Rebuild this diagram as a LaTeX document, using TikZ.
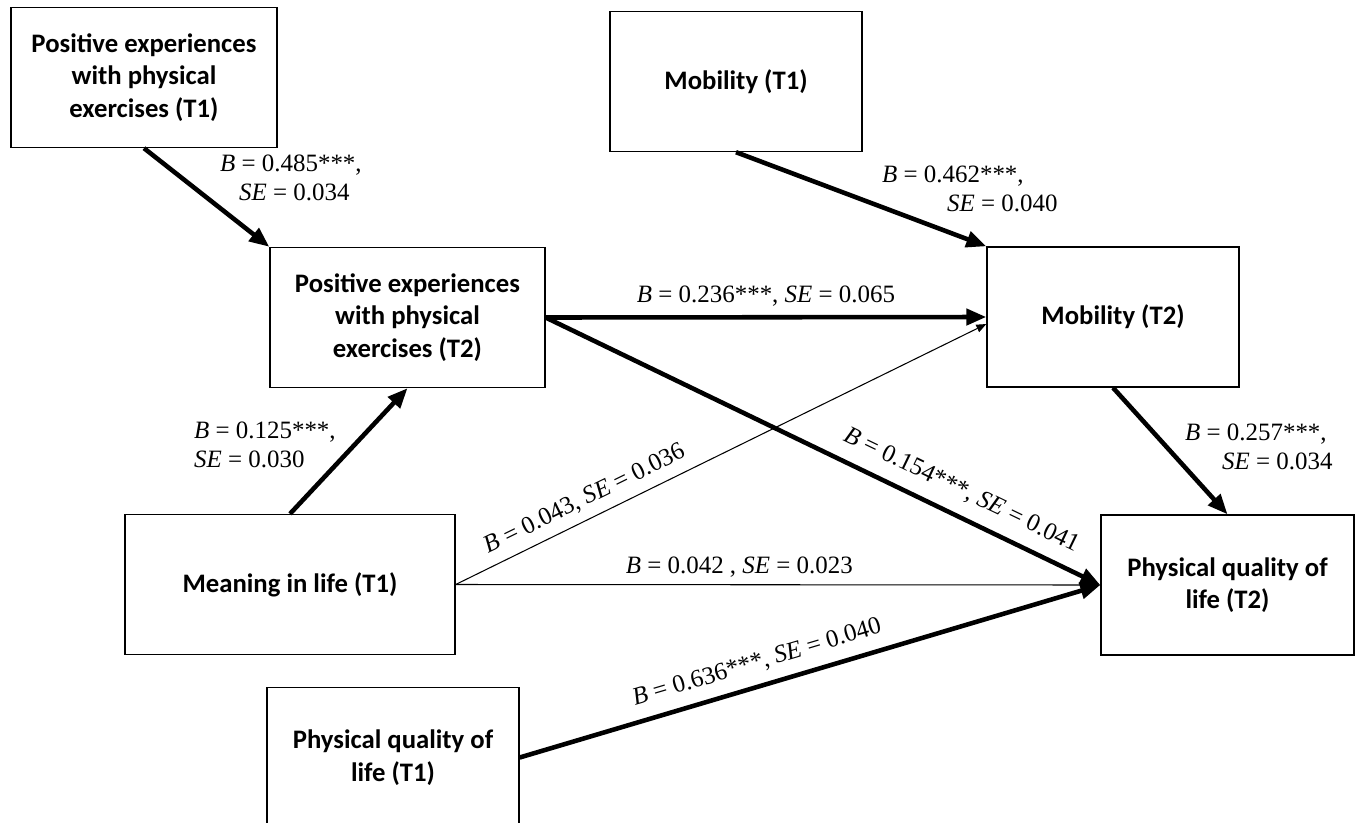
\documentclass[tikz,border=0pt]{standalone}
\usepackage{fontspec}
\setmainfont{Liberation Serif}
\newfontfamily\boxfont{Carlito}
\usetikzlibrary{arrows.meta}
\tikzset{
  box/.style={draw,line width=0.8pt,align=center,inner sep=2pt,minimum height=2.8cm,font=\boxfont\bfseries\fontsize{15.2}{18.5}\selectfont},
  ar/.style={-{Triangle[length=4mm,width=3.2mm]},line width=2.6pt},
  tn/.style={-{Triangle[length=2mm,width=1.6mm]},line width=0.6pt},
  lbl/.style={inner sep=1pt,align=left,font=\fontsize{14.2}{16.5}\selectfont}
}
\newcommand{\est}[2]{\textit{B} = #1, \textit{SE} = #2}

\begin{document}
\begin{tikzpicture}[x=0.02cm,y=-0.02cm]
\clip (0,0) rectangle (1356,822);
\node[box,minimum width=5.32cm] (pe1) at (144,77.5) {Positive experiences\\with physical\\exercises (T1)};
\node[box,minimum width=5.04cm] (mob1) at (736,81.5) {Mobility (T1)};
\node[box,minimum width=5.5cm] (pe2) at (407.5,317.5) {Positive experiences\\with physical\\exercises (T2)};
\node[box,minimum width=5.04cm] (mob2) at (1113,317) {Mobility (T2)};
\node[box,minimum width=6.6cm] (mil) at (290,584.5) {Meaning in life (T1)};
\node[box,minimum width=5.06cm] (pql2) at (1227.5,585) {Physical quality of\\life (T2)};
\node[box,minimum width=5.04cm] (pql1) at (393,757.5) {Physical quality of\\life (T1)};

\draw[tn] (mil.east) -- node[lbl,sloped,above=4pt,pos=0.26] (c6) {\est{0.043}{0.036}} ([yshift=-4pt]mob2.west);
\draw[tn] (mil.east) -- node[lbl,above=3pt,pos=0.44] (c7) {\textit{B} = 0.042 , \textit{SE} = 0.023} (pql2.west);

\draw[ar] (pe1.south) -- (pe2.north west);
\draw[ar] (mob1.south) -- (mob2.north west);
\draw[ar] (mil.north) -- (pe2.south);
\draw[ar] (pe2.east) -- node[lbl,above=4pt] (c3) {\est{0.236***}{0.065}} (mob2.west);
\draw[ar] (pe2.east) -- node[lbl,sloped,above=6pt,pos=0.73] (c4) {\est{0.154***}{0.041}} (pql2.west);
\draw[ar] (mob2.south) -- (pql2.north);
\draw[ar] (pql1.east) -- node[lbl,sloped,above=5pt,pos=0.42] (c8) {\est{0.636***}{0.040}} (pql2.west);

\node[lbl,anchor=west] (c1) at (218,178) {\textit{B} = 0.485***,\\\hspace*{0.38cm}\textit{SE} = 0.034};
\node[lbl,anchor=west] (c2) at (880,189) {\textit{B} = 0.462***,\\\hspace*{1.3cm}\textit{SE} = 0.040};
\node[lbl,anchor=west] (c5) at (1183,447) {\textit{B} = 0.257***,\\\hspace*{0.74cm}\textit{SE} = 0.034};
\node[lbl,anchor=west] (c9) at (192,445) {\textit{B} = 0.125***,\\\textit{SE} = 0.030};
\end{tikzpicture}
\end{document}
